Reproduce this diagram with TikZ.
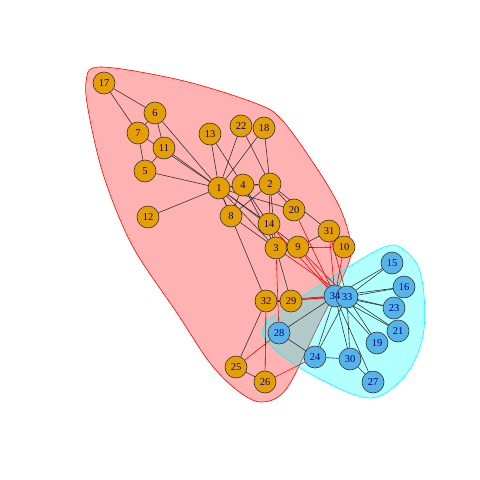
\documentclass[tikz,border=0pt]{standalone}
\usepackage{fontspec}
\setmainfont{Liberation Serif}
\usepackage{tikz}
\usetikzlibrary{calc}
\definecolor{clubA}{HTML}{E69F00}
\definecolor{clubB}{HTML}{56B4E9}
\definecolor{labelblue}{HTML}{00008B}
\definecolor{hullred}{RGB}{255,0,0}
\definecolor{hullcyan}{RGB}{0,255,255}
\pgfdeclarelayer{hull}
\pgfdeclarelayer{edges}
\pgfdeclarelayer{front}
\pgfsetlayers{hull,edges,main,front}

\begin{document}
\begin{tikzpicture}[
    x=1pt, y=-1pt,
    member/.style={circle, draw=black!80, line width=0.6pt, minimum size=22pt, inner sep=0pt,
                   font=\fontsize{10.5}{12}\selectfont, text=labelblue},
    ma/.style={member, fill=clubA},
    mb/.style={member, fill=clubB},
    tie/.style={draw=black!80, line width=0.6pt},
    cross/.style={draw=red, line width=0.6pt},
    hullA/.style={fill=hullred, fill opacity=0.3, draw=hullred, line width=0.6pt},
    hullB/.style={fill=hullcyan, fill opacity=0.3, draw=hullcyan, line width=0.6pt}
]
\useasboundingbox (0,0) rectangle (480,480);

% first faction
\node[ma] (n17) at (104,83) {17};
\node[ma] (n6) at (155,113) {6};
\node[ma] (n7) at (138,133) {7};
\node[ma] (n11) at (164,148) {11};
\node[ma] (n5) at (145,171) {5};
\node[ma] (n13) at (210,134) {13};
\node[ma] (n22) at (241,126) {22};
\node[ma] (n18) at (264,128) {18};
\node[ma] (n1) at (219,188) {1};
\node[ma] (n4) at (243,185) {4};
\node[ma] (n2) at (270,184) {2};
\node[ma] (n12) at (148,217) {12};
\node[ma] (n8) at (231,216) {8};
\node[ma] (n14) at (269,224) {14};
\node[ma] (n20) at (294,210) {20};
\node[ma] (n31) at (329,231) {31};
\node[ma] (n3) at (276,248) {3};
\node[ma] (n9) at (298,247) {9};
\node[ma] (n10) at (344,247) {10};
\node[ma] (n32) at (266,301) {32};
\node[ma] (n29) at (291,301) {29};
\node[ma] (n25) at (236,367) {25};
\node[ma] (n26) at (265,382) {26};

% second faction
\node[mb] (n15) at (392,263) {15};
\node[mb] (n16) at (404,287) {16};
\node[mb] (n23) at (394,308) {23};
\node[mb] (n21) at (398,331) {21};
\node[mb] (n19) at (377,343) {19};
\node[mb] (n28) at (279,333) {28};
\node[mb] (n24) at (315,357) {24};
\node[mb] (n30) at (350,359) {30};
\node[mb] (n27) at (373,382) {27};
\node[mb] (n34) at (335,296) {};
\node[mb] (n33) at (347,297) {33};
\begin{pgfonlayer}{front}
\node[font=\fontsize{10.5}{12}\selectfont, text=labelblue] at (n34) {34};
\end{pgfonlayer}

\begin{pgfonlayer}{hull}
\draw[hullA] plot[smooth cycle, tension=0.55] coordinates {
    (100,67) (180,80) (255,103) (282,120) (318,170) (340,208) (350,240) (348,265)
    (320,322) (287,388) (262,402) (238,391) (210,363) (177,313) (133,247)
    (105,180) (90,120) (86,82)};
\draw[hullB] plot[smooth cycle, tension=0.55] coordinates {
    (398,246) (417,264) (424,295) (423,336) (408,372) (380,396) (352,394)
    (300,368) (268,343) (263,329) (275,315) (320,285) (360,260) (382,248)};
\end{pgfonlayer}

\begin{pgfonlayer}{edges}
\foreach \a/\b in {1/2,1/3,1/4,1/5,1/6,1/7,1/8,1/9,1/11,1/12,1/13,1/14,1/18,1/20,1/22,1/32,
    2/3,2/4,2/8,2/14,2/18,2/20,2/22,2/31,3/4,3/8,3/9,3/10,3/14,3/29,4/8,4/13,4/14,
    5/7,5/11,6/7,6/11,6/17,7/17,9/31,25/26,25/32,26/32,29/32,
    15/33,15/34,16/33,16/34,19/33,19/34,21/33,21/34,23/33,23/34,24/28,24/30,24/33,24/34,
    27/30,27/34,28/34,30/33,30/34,33/34}
    \draw[tie] (n\a) -- (n\b);
\foreach \a/\b in {3/28,3/33,9/33,9/34,10/34,14/34,20/34,31/33,31/34,32/33,32/34,29/34,25/28,24/26}
    \draw[cross] (n\a) -- (n\b);
\end{pgfonlayer}

\end{tikzpicture}
\end{document}
